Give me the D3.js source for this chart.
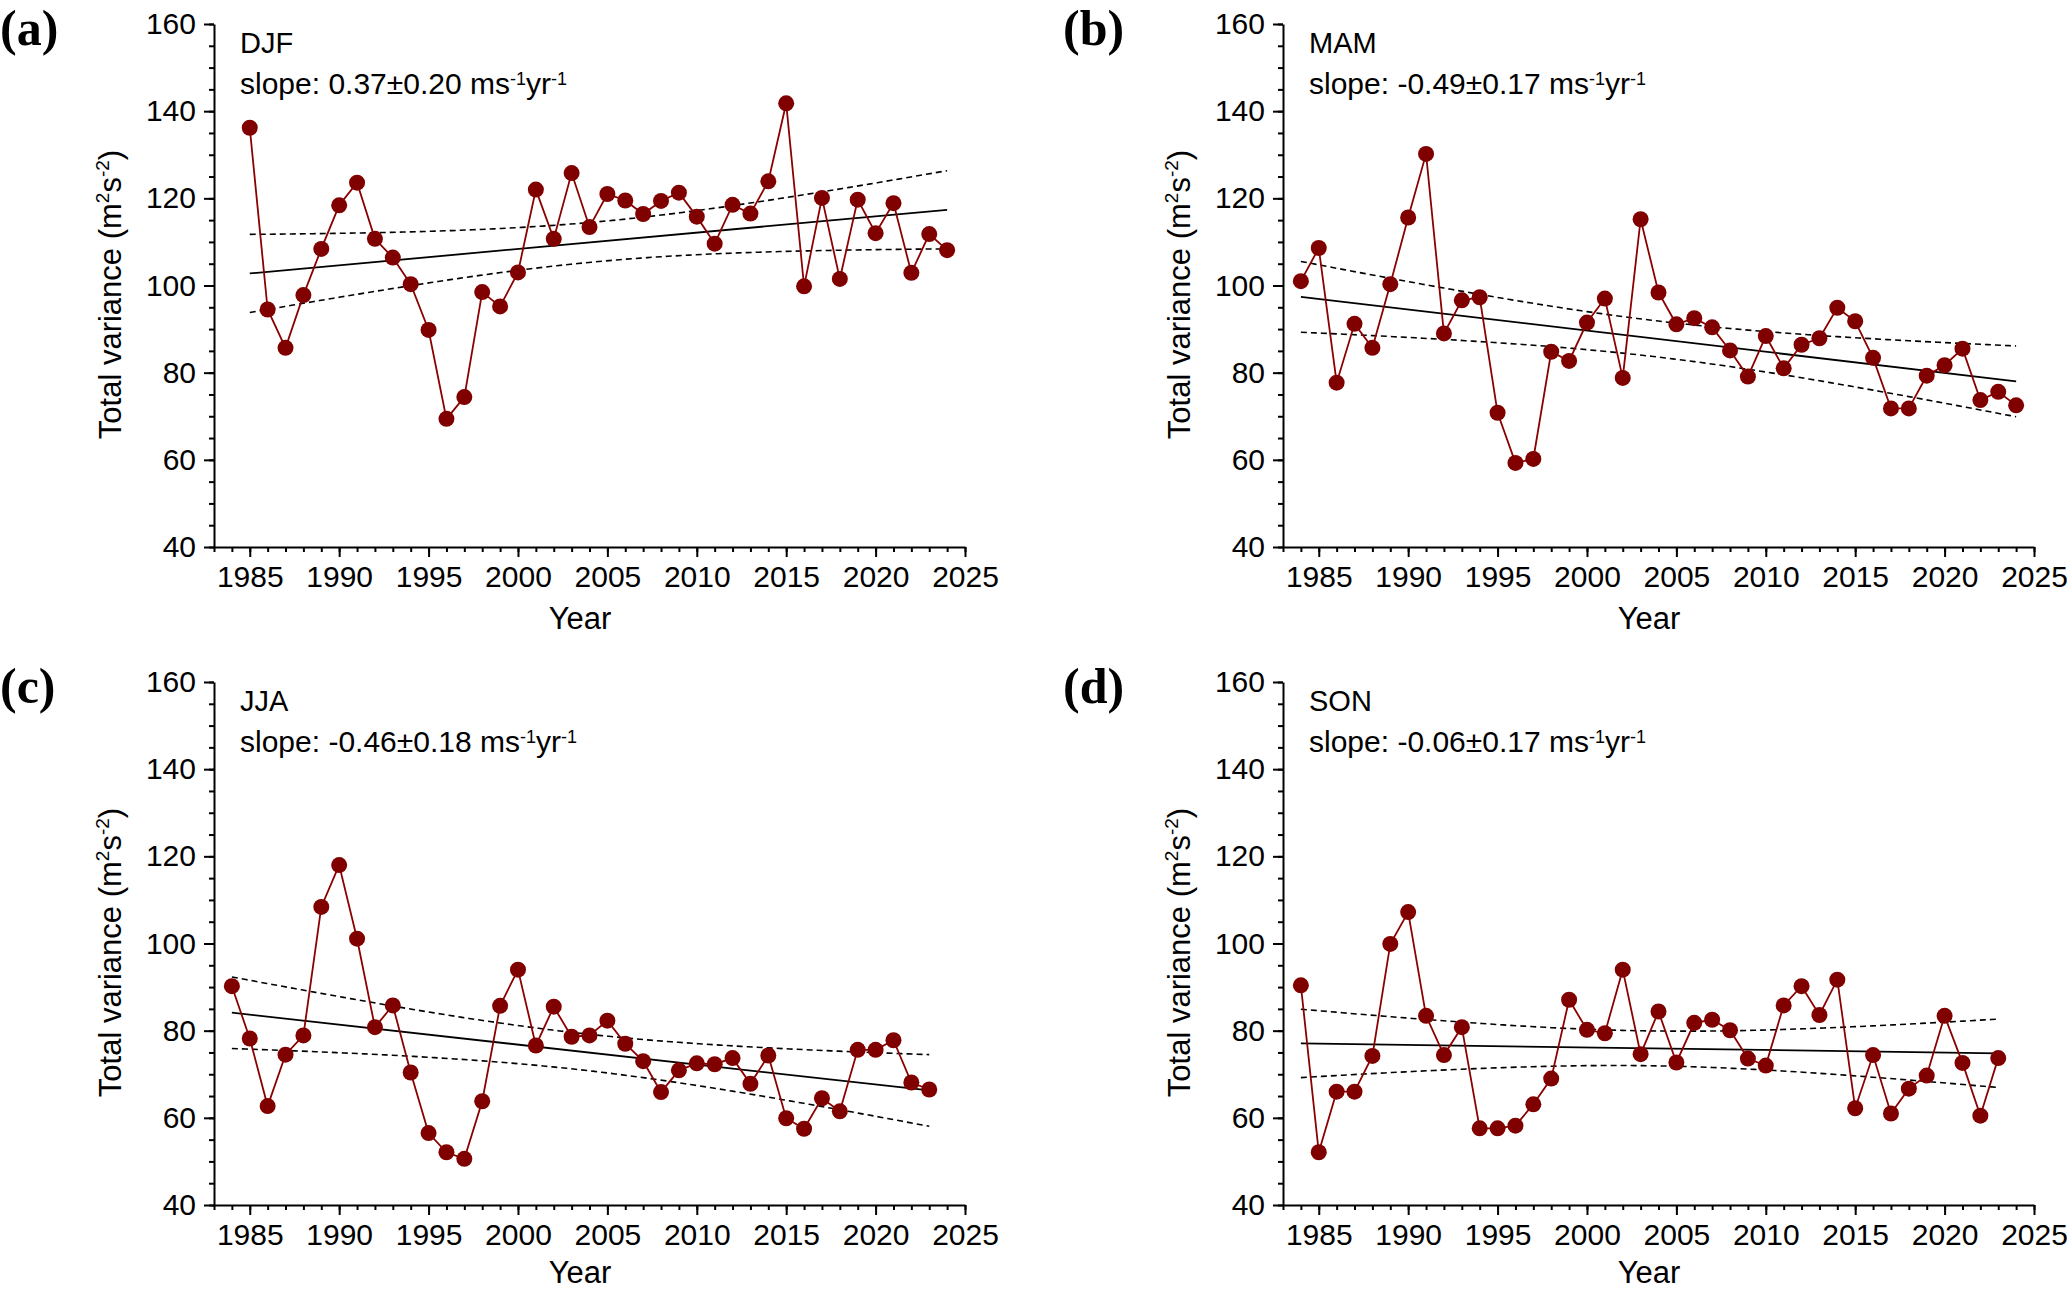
<!DOCTYPE html>
<html>
<head>
<meta charset="utf-8">
<script src="https://cdn.jsdelivr.net/npm/d3@7"></script>
<style>
  body { margin: 0; background: #fff; }
  text { font-family: "Liberation Sans", Arial, sans-serif; fill: #000; }
</style>
</head>
<body>
<div id="chart"></div>
<script>
var W = 2067, H = 1290;

// values, one array per season
var panelLetters = ["(a)", "(b)", "(c)", "(d)"];
var seasons = ["DJF", "MAM", "JJA", "SON"];
var slopeLabels = ["0.37\u00b10.20", "-0.49\u00b10.17", "-0.46\u00b10.18", "-0.06\u00b10.17"];
var firstYears = [1985, 1984, 1984, 1984];

var djf = [136.2, 94.5, 85.7, 97.8, 108.4, 118.4, 123.6, 110.7, 106.4, 100.3,
           89.8, 69.4, 74.4, 98.5, 95.2, 103.0, 122.0, 110.7, 125.8, 113.4,
           121.0, 119.5, 116.4, 119.4, 121.3, 115.8, 109.6, 118.5, 116.5, 123.9,
           141.8, 99.8, 120.1, 101.5, 119.7, 112.0, 118.9, 102.9, 111.8, 108.1];
var mam = [101.0, 108.6, 77.7, 91.2, 85.7, 100.3, 115.6, 130.2, 89.0, 96.6,
           97.3, 70.8, 59.3, 60.2, 84.8, 82.7, 91.5, 97.0, 78.8, 115.2,
           98.4, 91.1, 92.5, 90.4, 85.1, 79.1, 88.4, 81.0, 86.4, 87.9,
           94.9, 91.8, 83.4, 71.8, 71.8, 79.3, 81.7, 85.5, 73.7, 75.6, 72.5];
var jja = [90.2, 78.2, 62.7, 74.5, 78.9, 108.4, 118.0, 101.1, 80.8, 85.8,
           70.4, 56.5, 52.1, 50.6, 63.8, 85.7, 94.0, 76.6, 85.5, 78.6,
           78.9, 82.3, 77.0, 73.0, 65.9, 70.9, 72.5, 72.3, 73.7, 67.8,
           74.3, 59.9, 57.5, 64.5, 61.5, 75.6, 75.6, 77.8, 68.1, 66.5];
var son = [90.4, 52.1, 66.0, 66.0, 74.2, 99.9, 107.2, 83.4, 74.4, 80.8,
           57.6, 57.6, 58.2, 63.1, 69.0, 87.1, 80.2, 79.4, 94.0, 74.6,
           84.4, 72.7, 81.8, 82.5, 80.1, 73.6, 72.0, 85.8, 90.2, 83.6,
           91.7, 62.2, 74.4, 61.0, 66.7, 69.7, 83.4, 72.6, 60.5, 73.7];
var seriesList = [djf, mam, jja, son];

var xDomain = [1983, 2025], yDomain = [40, 160];
var xMajor = d3.range(1985, 2026, 5), xMinor = d3.range(1983, 2026, 1);
var yMajor = d3.range(40, 161, 20), yMinor = d3.range(40, 161, 5);

var panelLeft = [214, 1283], panelTop = [24, 682];
var pw = 751, ph = 523;
var T95 = 2.024;

var svg = d3.select("#chart").append("svg")
    .attr("width", W)
    .attr("height", H);

// append a superscript tspan, then drop back to the baseline
function sup(el, txt, size, rise) {
  el.append("tspan").attr("dy", -rise).style("font-size", size + "px").text(txt);
  return el.append("tspan").attr("dy", rise);
}

seriesList.forEach(function(values, k) {
  var col = k % 2, row = Math.floor(k / 2);
  var ox = panelLeft[col], oy = panelTop[row];

  var data = values.map(function(v, i) { return {year: firstYears[k] + i, value: v}; });

  var x = d3.scaleLinear().domain(xDomain).range([0, pw]);
  var y = d3.scaleLinear().domain(yDomain).range([ph, 0]);

  var g = svg.append("g").attr("transform", "translate(" + ox + "," + oy + ")");

  // panel letter
  svg.append("text")
    .attr("x", col === 0 ? 0 : 1063)
    .attr("y", oy + 21)
    .style("font-family", "'Liberation Serif', 'Times New Roman', serif")
    .style("font-weight", "bold")
    .style("font-size", "50px")
    .text(panelLetters[k]);

  // axes, minor ticks first
  g.append("g").attr("transform", "translate(0," + ph + ")")
    .call(d3.axisBottom(x).tickValues(xMinor).tickSize(5).tickFormat(""))
    .call(function(a) { a.select(".domain").remove(); });
  g.append("g")
    .call(d3.axisLeft(y).tickValues(yMinor).tickSize(5).tickFormat(""))
    .call(function(a) { a.select(".domain").remove(); });

  var xa = g.append("g").attr("transform", "translate(0," + ph + ")")
    .call(d3.axisBottom(x).tickValues(xMajor).tickSize(10).tickPadding(9)
      .tickSizeOuter(0).tickFormat(d3.format("d")));
  var ya = g.append("g")
    .call(d3.axisLeft(y).tickValues(yMajor).tickSize(10).tickPadding(8)
      .tickSizeOuter(0).tickFormat(d3.format("d")));

  [xa, ya].forEach(function(a) {
    a.selectAll("text").style("font-size", "30px").style("font-family", "'Liberation Sans', Arial, sans-serif");
    a.selectAll("line, path").attr("stroke", "#000").attr("stroke-width", 2);
  });
  g.selectAll(".tick line").attr("stroke", "#000").attr("stroke-width", 2);

  // axis titles (bottom row sits against the page edge, keep it inside)
  g.append("text")
    .attr("x", 366)
    .attr("y", Math.min(ph + 82, H - oy - 7))
    .attr("text-anchor", "middle")
    .style("font-size", "31px")
    .text("Year");

  var yt = g.append("text")
    .attr("transform", "translate(-93," + (ph / 2 + 9) + ") rotate(-90)")
    .attr("text-anchor", "middle")
    .style("font-size", "31px");
  yt.append("tspan").text("Total variance (m");
  sup(yt, "2", 19, 12).text("s");
  sup(yt, "-2", 19, 12).text(")");

  // season and slope text
  g.append("text").attr("x", 26).attr("y", 29).style("font-size", "29px").text(seasons[k]);
  var st = g.append("text").attr("x", 26).attr("y", 70).style("font-size", "30px");
  st.append("tspan").text("slope: " + slopeLabels[k] + " ms");
  sup(st, "-1", 18, 9).text("yr");
  sup(st, "-1", 18, 9);

  // least squares fit with 95% confidence band of the mean
  var n = data.length,
      xbar = d3.mean(data, function(d) { return d.year; }),
      ybar = d3.mean(data, function(d) { return d.value; }),
      sxx = d3.sum(data, function(d) { return (d.year - xbar) * (d.year - xbar); }),
      sxy = d3.sum(data, function(d) { return (d.year - xbar) * (d.value - ybar); }),
      b = sxy / sxx,
      a0 = ybar - b * xbar,
      sse = d3.sum(data, function(d) { var r = d.value - (a0 + b * d.year); return r * r; }),
      s = Math.sqrt(sse / (n - 2));

  var x0 = data[0].year, x1 = data[n - 1].year;
  var fitX = d3.range(x0, x1 + 0.001, (x1 - x0) / 100);
  var half = function(t) { return T95 * s * Math.sqrt(1 / n + (t - xbar) * (t - xbar) / sxx); };

  var line = d3.line().x(function(t) { return x(t[0]); }).y(function(t) { return y(t[1]); });

  g.append("path")
    .datum(fitX.map(function(t) { return [t, a0 + b * t + half(t)]; }))
    .attr("d", line).attr("fill", "none").attr("stroke", "#000")
    .attr("stroke-width", 1.6).attr("stroke-dasharray", "6,4");
  g.append("path")
    .datum(fitX.map(function(t) { return [t, a0 + b * t - half(t)]; }))
    .attr("d", line).attr("fill", "none").attr("stroke", "#000")
    .attr("stroke-width", 1.6).attr("stroke-dasharray", "6,4");
  g.append("path")
    .datum([[x0, a0 + b * x0], [x1, a0 + b * x1]])
    .attr("d", line).attr("fill", "none").attr("stroke", "#000")
    .attr("stroke-width", 1.8);

  // series line and markers
  g.append("path")
    .datum(data)
    .attr("d", d3.line().x(function(d) { return x(d.year); }).y(function(d) { return y(d.value); }))
    .attr("fill", "none")
    .attr("stroke", "#8b0000")
    .attr("stroke-width", 1.8);

  g.selectAll("circle")
    .data(data)
    .enter()
    .append("circle")
    .attr("cx", function(d) { return x(d.year); })
    .attr("cy", function(d) { return y(d.value); })
    .attr("r", 8)
    .attr("fill", "#800000");
});
</script>
</body>
</html>
